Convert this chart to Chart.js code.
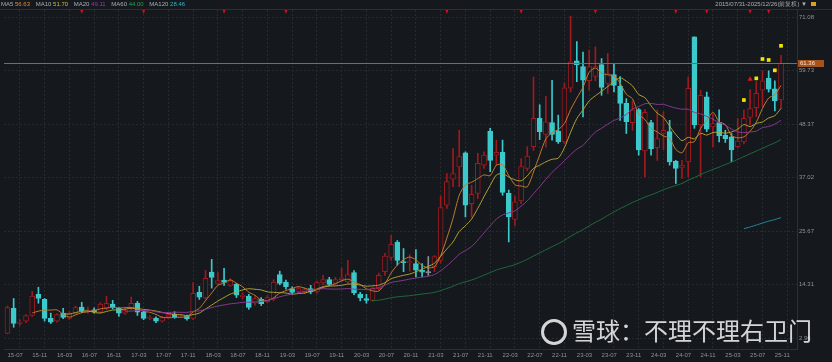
<!DOCTYPE html>
<html>
<head>
<meta charset="utf-8">
<title>月K线</title>
<script src="https://cdn.jsdelivr.net/npm/chart.js@4.4.1/dist/chart.umd.min.js"></script>
<style>
  html, body { margin: 0; padding: 0; background: #15181d; }
  #box { position: relative; width: 832px; height: 362px; overflow: hidden; background: #15181d;
         font-family: "Liberation Sans", Arial, sans-serif; }
  #kline { position: absolute; left: 0; top: 0; }
  .legend { position: absolute; left: 1px; top: 1px; font-size: 6px; line-height: 7px; color: #a9afb7; white-space: nowrap; }
  .legend span { margin-right: 4px; }
  .range { position: absolute; right: 16px; top: 1px; font-size: 6px; line-height: 7px; color: #a9afb7; white-space: nowrap; }
  .range em { display: inline-block; width: 5px; height: 4px; background: #d9a020; margin-left: 4px; vertical-align: 0; }
  .wm { position: absolute; left: 541px; top: 314px; height: 32px; white-space: nowrap;
        font-family: "Noto Sans CJK SC", sans-serif; font-size: 24px; line-height: 32px; color: rgba(255,255,255,0.82); }
  .wm i { display: inline-block; width: 20px; height: 20px; border: 3px solid rgba(255,255,255,0.82);
          border-radius: 50%; vertical-align: -5px; margin-right: 5px; }
</style>
</head>
<body>
<div id="box">
  <canvas id="kline" width="832" height="362"></canvas>
  <div class="legend">
    MA5 <span style="color:#e68a2e">56.63</span>
    MA10 <span style="color:#cdbb3a">51.70</span>
    MA20 <span style="color:#9c34c6">49.11</span>
    MA60 <span style="color:#23a254">44.00</span>
    MA120 <span style="color:#35b3c6">28.46</span>
  </div>
  <div class="range">2015/07/31-2025/12/26(前复权) ▼<em></em></div>
  <div class="wm"><i></i>雪球：不理不理右卫门</div>
</div>
<script>
'use strict';

var months = [
  '15-07','15-08','15-09','15-10','15-11','15-12',
  '16-01','16-02','16-03','16-04','16-05','16-06','16-07','16-08','16-09','16-10','16-11','16-12',
  '17-01','17-02','17-03','17-04','17-05','17-06','17-07','17-08','17-09','17-10','17-11','17-12',
  '18-01','18-02','18-03','18-04','18-05','18-06','18-07','18-08','18-09','18-10','18-11','18-12',
  '19-01','19-02','19-03','19-04','19-05','19-06','19-07','19-08','19-09','19-10','19-11','19-12',
  '20-01','20-02','20-03','20-04','20-05','20-06','20-07','20-08','20-09','20-10','20-11','20-12',
  '21-01','21-02','21-03','21-04','21-05','21-06','21-07','21-08','21-09','21-10','21-11','21-12',
  '22-01','22-02','22-03','22-04','22-05','22-06','22-07','22-08','22-09','22-10','22-11','22-12',
  '23-01','23-02','23-03','23-04','23-05','23-06','23-07','23-08','23-09','23-10','23-11','23-12',
  '24-01','24-02','24-03','24-04','24-05','24-06','24-07','24-08','24-09','24-10','24-11','24-12',
  '25-01','25-02','25-03','25-04','25-05','25-06','25-07','25-08','25-09','25-10','25-11','25-12'
];

var open = [4.0,9.3,6.1,6.6,7.8,12.3,11.2,7.2,6.6,8.3,
  7.2,8.3,9.6,8.6,9.0,8.5,9.3,10.2,9.3,8.3,
  9.3,10.4,8.5,7.2,7.2,6.6,7.5,8.1,7.5,7.6,
  7.2,12.7,11.5,17.0,14.6,15.3,14.2,14.4,11.8,11.9,
  10.4,11.2,10.7,11.4,16.5,14.9,13.5,12.9,12.8,13.5,
  12.8,14.7,15.4,14.6,15.4,14.9,16.9,12.3,11.4,11.0,
  13.5,17.1,20.1,23.3,19.2,19.0,18.8,17.4,16.9,18.1,
  19.5,31.2,36.7,39.3,42.3,31.5,33.7,39.7,46.9,41.8,
  42.4,33.7,28.2,32.1,39.0,43.6,49.6,46.2,48.7,46.9,
  44.6,56.0,61.8,60.6,57.6,58.5,61.0,57.0,58.9,56.4,
  52.8,48.7,51.5,42.7,48.7,43.4,46.4,46.8,40.5,39.2,
  40.4,66.9,48.2,54.2,47.8,48.7,46.0,45.7,43.6,44.6,
  49.8,51.9,55.6,58.1,55.9,53.5];

var high = [9.8,11.4,6.9,8.0,12.9,13.8,11.4,8.3,8.2,9.3,
  8.6,9.8,10.6,9.6,9.4,10.5,11.9,11.0,9.5,9.2,
  11.7,10.8,8.8,7.8,7.5,7.6,8.3,8.6,8.0,7.9,
  14.8,14.0,17.4,19.7,17.0,17.8,15.6,14.6,12.6,12.3,
  11.8,11.6,12.0,15.4,17.2,15.3,13.9,13.9,13.7,14.2,
  15.1,16.3,15.9,15.9,17.8,19.5,17.3,12.7,12.3,13.8,
  16.8,21.0,24.8,23.7,22.0,20.7,21.8,18.8,20.3,20.5,
  33.1,37.9,43.2,47.1,42.5,35.4,42.2,42.5,47.5,45.0,
  45.0,34.4,33.1,41.1,43.6,58.4,52.5,54.3,57.7,50.3,
  57.1,71.3,65.9,63.7,64.1,64.8,62.3,63.4,61.1,58.5,
  53.8,53.2,51.7,51.5,49.2,51.4,51.0,49.2,40.7,40.7,
  58.4,66.9,55.6,55.2,50.6,51.4,47.1,46.4,49.6,51.4,
  55.7,57.4,59.7,59.7,57.6,63.0];

var low = [3.9,5.3,5.7,6.3,7.6,10.4,6.6,6.1,6.4,7.1,
  7.0,8.0,8.4,8.3,8.3,8.3,9.0,9.2,7.6,8.0,
  9.0,7.8,6.9,6.9,6.3,6.4,7.3,7.2,7.3,6.8,
  6.9,11.2,11.2,13.6,14.3,14.2,14.0,11.6,11.3,9.1,
  10.0,9.9,10.5,10.9,14.3,13.4,12.2,12.5,12.4,12.4,
  12.5,14.4,14.1,14.3,15.0,14.6,12.2,10.9,10.4,10.8,
  13.2,16.3,19.5,18.5,17.1,17.2,16.0,16.0,16.3,17.1,
  18.9,30.5,35.1,35.1,28.7,28.7,32.6,39.0,38.3,39.7,
  33.3,23.4,26.9,31.5,38.5,42.8,45.1,43.5,45.0,44.3,
  44.2,55.2,57.4,49.9,55.6,57.6,54.5,54.9,55.2,49.2,
  46.4,47.1,41.8,37.2,41.8,40.7,43.0,39.7,35.8,36.9,
  37.2,47.5,37.2,46.8,43.6,44.6,44.5,40.4,43.3,44.2,
  48.2,50.0,52.1,55.2,51.2,51.7];

var close = [9.5,6.1,6.4,7.8,11.9,11.4,7.2,6.4,8.0,7.4,
  8.3,9.5,8.7,9.0,8.6,10.2,10.4,9.5,8.3,8.9,
  10.4,8.5,7.2,7.4,6.6,7.4,8.0,7.5,7.7,7.1,
  12.5,11.7,15.7,15.9,15.2,14.8,15.2,12.1,12.1,9.5,
  11.4,10.3,11.6,14.9,14.6,13.9,12.7,13.5,13.3,12.8,
  14.8,15.4,14.4,15.4,15.8,16.5,12.6,11.5,11.0,13.5,
  16.3,20.4,22.9,19.5,19.0,19.2,17.4,17.0,16.9,20.3,
  30.7,36.2,37.9,41.5,31.2,33.5,40.1,41.8,40.7,42.4,
  33.9,28.7,31.9,39.4,41.6,49.6,46.8,48.9,46.2,44.6,
  56.1,61.6,61.0,57.7,60.6,60.6,56.2,59.1,56.6,52.8,
  48.9,51.4,42.9,50.9,43.2,45.3,47.1,40.4,39.0,39.7,
  56.0,48.2,54.5,47.3,48.5,45.9,45.3,42.9,44.8,49.6,
  51.7,54.9,57.6,55.8,53.3,61.36];

// signal marks near the last candles
var buyMonths = ['25-06','25-08','25-09','25-10','25-11','25-12'];
var buyValues = [53.5, 58.1, 62.2, 62.0, 59.8, 65.0];
var warnMonths = ['25-07'];
var warnValues = [57.9];
// small red flags on the top edge
var eventMonths = ['16-07','17-05','18-06','19-04','21-06','22-06','23-06','24-07','24-12','25-07','25-10'];

var xTickLabels = ['15-07','15-11','16-03','16-07','16-11','17-03','17-07','17-11','18-03','18-07','18-11',
  '19-03','19-07','19-11','20-03','20-07','20-11','21-03','21-07','21-11','22-03','22-07','22-11',
  '23-03','23-07','23-11','24-03','24-07','24-11','25-03','25-07','25-11'];
var yTicks = [2.96, 14.31, 25.67, 37.02, 48.37, 59.73, 71.08];

var maSpecs = [
  { label: 'MA5', n: 5, color: '#c27a2c' },
  { label: 'MA10', n: 10, color: '#b2a235' },
  { label: 'MA20', n: 20, color: '#8a3a92' },
  { label: 'MA60', n: 60, color: '#1d6e3d' },
  { label: 'MA120', n: 120, color: '#27879a' }
];

var UP = '#9e1a1f', DOWN = '#3cc9cb', FLAT = '#8c8f96', BG = '#15181d', GRID = '#262a31', TXT = '#8d939c';

function candleColor(i) {
  if (close[i] > open[i]) return UP;
  if (close[i] < open[i]) return DOWN;
  return FLAT;
}

function movingAverage(src, n) {
  return src.map(function (v, i) {
    if (i < n - 1) return { x: i, y: null };
    var s = 0;
    for (var k = i - n + 1; k <= i; k++) s += src[k];
    return { x: i, y: s / n };
  });
}

function idxOf(m) { return months.indexOf(m); }

var wickData = months.map(function (m, i) { return { x: i, y: [low[i], high[i]] }; });
var bodyData = months.map(function (m, i) { return { x: i, y: [Math.min(open[i], close[i]), Math.max(open[i], close[i])] }; });

var datasets = [];
datasets.push({
  type: 'bar', label: 'wick', data: wickData, order: 9, grouped: false,
  barThickness: 1, backgroundColor: months.map(function (m, i) { return candleColor(i); }),
  borderWidth: 0, minBarLength: 1
});
datasets.push({
  type: 'bar', label: 'body', data: bodyData, order: 8, grouped: false,
  barThickness: 5, minBarLength: 1, borderSkipped: false, borderWidth: 1,
  backgroundColor: months.map(function (m, i) { return close[i] > open[i] ? BG : candleColor(i); }),
  borderColor: months.map(function (m, i) { return candleColor(i); })
});
maSpecs.forEach(function (ma, k) {
  datasets.push({
    type: 'line', label: ma.label, data: movingAverage(close, ma.n), order: 5 - k,
    borderColor: ma.color, borderWidth: 1, pointRadius: 0, tension: 0.25, spanGaps: false
  });
});
datasets.push({
  type: 'scatter', label: 'buy', order: 0,
  data: buyMonths.map(function (m, k) { return { x: idxOf(m), y: buyValues[k] }; }),
  pointStyle: 'rect', pointRadius: 2.6, backgroundColor: '#f2e600', borderWidth: 0
});
datasets.push({
  type: 'scatter', label: 'warn', order: 0,
  data: warnMonths.map(function (m, k) { return { x: idxOf(m), y: warnValues[k] }; }),
  pointStyle: 'triangle', pointRadius: 3, backgroundColor: '#e01414', borderWidth: 0
});

var priceLine = {
  id: 'priceLine',
  afterDatasetsDraw: function (chart) {
    var ctx = chart.ctx, a = chart.chartArea;
    var py = Math.round(chart.scales.y.getPixelForValue(close[close.length - 1]));
    ctx.save();
    ctx.fillStyle = '#b9581b';
    ctx.fillRect(a.left, py, a.right - a.left, 1);
    ctx.restore();
  },
  afterDraw: function (chart) {
    var ctx = chart.ctx, a = chart.chartArea, xs = chart.scales.x;
    var last = close[close.length - 1];
    var py = Math.round(chart.scales.y.getPixelForValue(last)) + 0.5;
    ctx.save();
    ctx.fillStyle = '#a5521c';
    ctx.fillRect(a.right + 1, py - 3.5, 26, 7);
    ctx.fillStyle = '#f4e8dc';
    ctx.font = '6px "Liberation Sans", Arial, sans-serif';
    ctx.textBaseline = 'middle';
    ctx.fillText(last.toFixed(2), a.right + 3, py);
    ctx.fillStyle = '#c8161c';
    eventMonths.forEach(function (m) {
      var x = xs.getPixelForValue(idxOf(m));
      ctx.beginPath();
      ctx.moveTo(x - 1.5, a.top);
      ctx.lineTo(x + 1.5, a.top);
      ctx.lineTo(x, a.top + 4);
      ctx.closePath();
      ctx.fill();
    });
    ctx.fillStyle = '#2b2f36';
    ctx.fillRect(0, a.top - 1, 832, 1);
    ctx.restore();
  }
};

Chart.defaults.font.family = '"Liberation Sans", Arial, sans-serif';

new Chart(document.getElementById('kline').getContext('2d'), {
  type: 'bar',
  data: { datasets: datasets },
  options: {
    responsive: false,
    animation: false,
    events: [],
    layout: { padding: { top: 10, left: 0, right: 0, bottom: 0 } },
    plugins: { legend: { display: false }, tooltip: { enabled: false } },
    scales: {
      x: {
        type: 'linear', offset: false, min: -0.56, max: 127.58,
        afterBuildTicks: function (axis) {
          axis.ticks = xTickLabels.map(function (t) { return { value: idxOf(t) }; });
        },
        afterFit: function (axis) { axis.height = 13; },
        ticks: {
          autoSkip: false, maxRotation: 0, align: 'start', padding: 3,
          color: TXT, font: { size: 6 },
          callback: function (v) { return months[v]; }
        },
        grid: { color: GRID, drawTicks: false },
        border: { display: true, color: '#2b2f36', dash: [2, 2] }
      },
      y: {
        position: 'right', min: 0.69, max: 72.6,
        afterBuildTicks: function (axis) {
          axis.ticks = yTicks.map(function (v) { return { value: v }; });
        },
        afterFit: function (axis) { axis.width = 35; },
        ticks: {
          padding: 2, color: TXT, font: { size: 6 },
          callback: function (v) { return v.toFixed(2); }
        },
        grid: { color: GRID, drawTicks: false },
        border: { display: true, color: '#2b2f36', dash: [2, 2] }
      }
    }
  },
  plugins: [priceLine]
});
</script>
</body>
</html>
